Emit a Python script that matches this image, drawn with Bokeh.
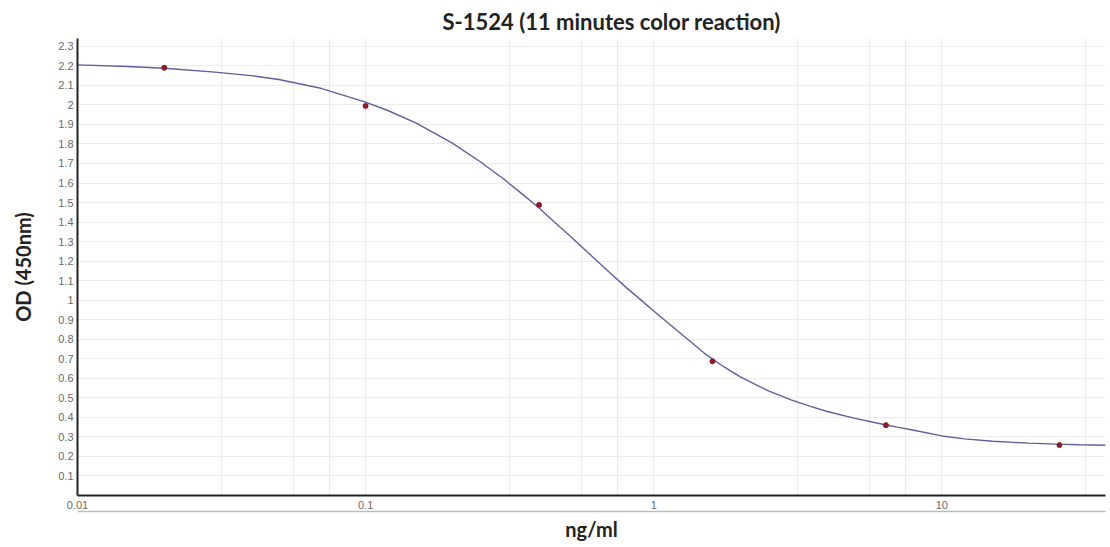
from bokeh.plotting import figure
from bokeh.models import FixedTicker, LogAxis, CustomJSTickFormatter, Range1d
from bokeh.embed import file_html
from bokeh.resources import INLINE

# measured standard points
conc = [0.02, 0.1, 0.4, 1.6, 6.4, 25.6]
od = [2.19, 1.995, 1.488, 0.687, 0.36, 0.258]

# fitted curve
curve_x = [0.01, 0.015, 0.02, 0.03, 0.04, 0.05, 0.07, 0.1, 0.12, 0.15, 0.2, 0.25, 0.3, 0.35, 0.4,
           0.45, 0.5, 0.6, 0.7, 0.8, 0.9, 1.0, 1.2, 1.35, 1.5, 1.7, 1.8, 2.0, 2.5, 3.0, 3.5,
           4.0, 5.0, 6.0, 7.0, 8.0, 10.0, 12.0, 15.0, 20.0, 25.0, 30.0, 37.0]
curve_y = [2.205, 2.197, 2.188, 2.168, 2.15, 2.13, 2.085, 2.014, 1.97, 1.907, 1.804, 1.709, 1.623, 1.543, 1.472,
           1.403, 1.343, 1.235, 1.144, 1.067, 1.003, 0.945, 0.847, 0.785, 0.728, 0.672, 0.648, 0.607, 0.536, 0.49, 0.456,
           0.43, 0.395, 0.37, 0.35, 0.334, 0.305, 0.29, 0.278, 0.268, 0.263, 0.26, 0.257]

y_ticks = [round(0.1 * i, 1) for i in range(1, 24)]
x_ticks = [0.01, 0.1, 1, 10]
x_minor = [0.0316, 0.056, 0.075, 0.316, 0.56, 0.75, 3.16, 5.6, 7.5, 31.6]

p = figure(width=1108, height=543, x_axis_type="log", output_backend="svg", toolbar_location=None,
           x_range=Range1d(0.01, 37), y_range=Range1d(0, 2.34),
           min_border_left=77, min_border_right=3, min_border_top=38, min_border_bottom=46)
p.outline_line_color = None
p.background_fill_color = "white"

p.title.text = "S-1524 (11 minutes color reaction)"
p.title.text_font = "Lato"
p.title.text_font_style = "bold"
p.title.text_font_size = "22px"
p.title.text_color = "#222222"
p.title.align = "left"
p.title.offset = 365
p.title.standoff = 8

grid_col = "#ececec"
p.xaxis.ticker = FixedTicker(ticks=x_ticks, minor_ticks=x_minor)
p.yaxis.ticker = FixedTicker(ticks=y_ticks)
p.xgrid.grid_line_color = grid_col
p.xgrid.minor_grid_line_color = grid_col
p.ygrid.grid_line_color = grid_col

for ax in (p.xaxis[0], p.yaxis[0]):
    ax.axis_line_color = "#222222"
    ax.axis_line_width = 2
    ax.major_tick_in = 0
    ax.major_tick_out = 0
    ax.minor_tick_in = 0
    ax.minor_tick_out = 0
    ax.major_label_text_font = "Liberation Sans"
    ax.major_label_text_font_size = "11px"
    ax.major_label_text_color = "#6a6a6a"

p.xaxis[0].formatter = CustomJSTickFormatter(code="return String(tick);")
p.yaxis[0].formatter = CustomJSTickFormatter(code="return String(Number(tick.toFixed(1)));")
p.xaxis[0].major_label_standoff = 5
p.yaxis[0].major_label_standoff = 4

p.yaxis[0].axis_label = "OD (450nm)"
p.yaxis[0].axis_label_text_font = "Lato"
p.yaxis[0].axis_label_text_font_style = "bold"
p.yaxis[0].axis_label_text_font_size = "20px"
p.yaxis[0].axis_label_text_color = "#222222"
p.yaxis[0].axis_label_standoff = 20

ax2 = LogAxis(ticker=FixedTicker(ticks=[]), axis_line_color="#bbbbbb", axis_line_width=1.5,
              major_tick_in=0, major_tick_out=0, minor_tick_in=0, minor_tick_out=0,
              axis_label="ng/ml", axis_label_text_font="Lato", axis_label_text_font_style="bold",
              axis_label_text_font_size="20px", axis_label_text_color="#222222",
              axis_label_standoff=5)
p.add_layout(ax2, "below")

p.line(curve_x, curve_y, line_color="#5f5f9f", line_width=1.4)
p.scatter(conc, od, size=5, fill_color="#8b1a2a", line_color="#8b1a2a")

open("out.html", "w").write(file_html(p, INLINE))
